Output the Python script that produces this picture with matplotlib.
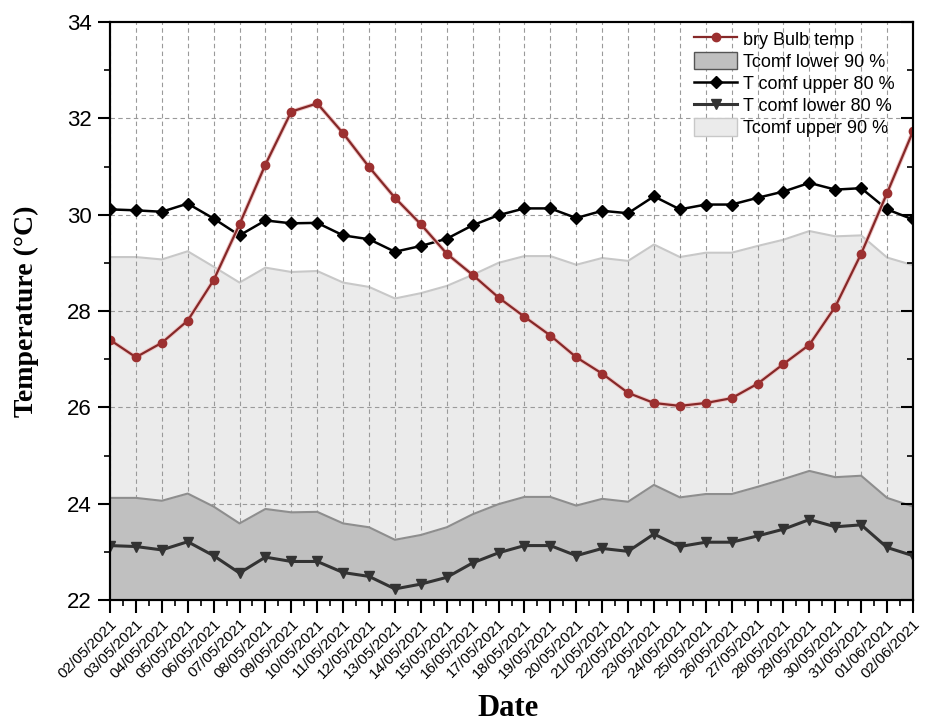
import numpy as np
import matplotlib
matplotlib.use('Agg')
import matplotlib.pyplot as plt
import matplotlib.patheffects as pe
from matplotlib.lines import Line2D
from matplotlib.patches import Patch

plt.rcParams['font.family'] = ['Liberation Sans', 'DejaVu Sans']

# data
dates = ['02/05/2021', '03/05/2021', '04/05/2021', '05/05/2021', '06/05/2021',
         '07/05/2021', '08/05/2021', '09/05/2021', '10/05/2021', '11/05/2021',
         '12/05/2021', '13/05/2021', '14/05/2021', '15/05/2021', '16/05/2021',
         '17/05/2021', '18/05/2021', '19/05/2021', '20/05/2021', '21/05/2021',
         '22/05/2021', '23/05/2021', '24/05/2021', '25/05/2021', '26/05/2021',
         '27/05/2021', '28/05/2021', '29/05/2021', '30/05/2021', '31/05/2021',
         '01/06/2021', '02/06/2021']

dry_bulb = [27.40, 27.04, 27.34, 27.80, 28.64, 29.80, 31.04, 32.14, 32.31, 31.69,
            30.99, 30.35, 29.80, 29.19, 28.75, 28.28, 27.88, 27.49, 27.04, 26.70,
            26.30, 26.09, 26.03, 26.09, 26.19, 26.49, 26.90, 27.30, 28.09, 29.19,
            30.45, 31.73]

upper_80 = [30.11, 30.09, 30.06, 30.23, 29.92, 29.57, 29.88, 29.82, 29.83, 29.57,
            29.49, 29.23, 29.35, 29.50, 29.78, 29.99, 30.13, 30.13, 29.93, 30.08,
            30.03, 30.38, 30.11, 30.21, 30.21, 30.35, 30.48, 30.66, 30.52, 30.55,
            30.11, 29.90]

upper_90 = [29.12, 29.12, 29.07, 29.24, 28.92, 28.59, 28.90, 28.81, 28.83, 28.59,
            28.50, 28.26, 28.37, 28.52, 28.75, 29.00, 29.14, 29.14, 28.96, 29.10,
            29.04, 29.38, 29.12, 29.21, 29.21, 29.35, 29.48, 29.66, 29.55, 29.57,
            29.11, 28.95]

lower_80 = [23.13, 23.11, 23.04, 23.21, 22.92, 22.56, 22.89, 22.80, 22.80, 22.57,
            22.49, 22.23, 22.33, 22.47, 22.77, 22.98, 23.13, 23.13, 22.92, 23.07,
            23.01, 23.37, 23.11, 23.20, 23.20, 23.33, 23.47, 23.67, 23.52, 23.56,
            23.09, 22.92]

lower_90 = [24.12, 24.12, 24.06, 24.21, 23.94, 23.59, 23.89, 23.82, 23.83, 23.59,
            23.51, 23.25, 23.35, 23.51, 23.78, 23.99, 24.14, 24.14, 23.96, 24.10,
            24.04, 24.39, 24.13, 24.20, 24.20, 24.35, 24.51, 24.68, 24.55, 24.58,
            24.12, 23.94]

ymin, ymax = 22, 34
x = np.arange(len(dates))

red = '#862828'
red_m = '#9c3030'
grid_c = '#9a9a9a'

fig = plt.figure(figsize=(9.27, 7.28), dpi=100)
ax = fig.add_axes([110 / 927, 1 - 600 / 728, 803 / 927, 578 / 728])

# light band (upper 90) sits under the grid, dark band (lower 90) above it
ax.fill_between(x, ymin, upper_90, color='#ebebeb', lw=0, zorder=0.3)
ax.plot(x, upper_90, color='#c8c8c8', lw=1.5, zorder=0.4)

for xi in x:
    ax.axvline(xi, color=grid_c, ls=(0, (4, 3)), lw=0.8, zorder=0.8)
for yv in range(24, 34, 2):
    ax.axhline(yv, color=grid_c, ls=(0, (4, 3)), lw=0.8, zorder=0.8)

ax.fill_between(x, ymin, lower_90, color='#c0c0c0', lw=0, zorder=1)
ax.plot(x, lower_90, color='#8e8e8e', lw=1.5, zorder=1.1)

ax.plot(x, lower_80, color='#333333', lw=2.2, marker='v', ms=7, zorder=3)
ax.plot(x, upper_80, color='black', lw=1.8, marker='D', ms=6, zorder=3)
# dry bulb: line with a faint pink halo, markers drawn plain on top
ax.plot(x, dry_bulb, color=red, lw=1.6, zorder=4,
        path_effects=[pe.Stroke(linewidth=3.0, foreground='#efc6c6'), pe.Normal()])
ax.plot(x, dry_bulb, ls='none', marker='o', ms=6, mfc=red_m, mec=red_m, zorder=4.1)

ax.set_xlim(0, len(dates) - 1)
ax.set_ylim(ymin, ymax)
ax.set_yticks(np.arange(22, 35, 2))
ax.set_yticks(np.arange(23, 34, 2), minor=True)
ax.set_xticks(x)
ax.set_xticks(x[:-1] + 0.5, minor=True)
ax.set_xticklabels(dates, rotation=45, ha='right', va='top', rotation_mode='anchor', fontsize=11)
ax.tick_params(axis='both', which='major', direction='out', length=9, width=1.5)
ax.tick_params(axis='both', which='minor', direction='out', length=4, width=1.2)
ax.tick_params(axis='y', labelsize=16, pad=4)
ax.tick_params(axis='x', pad=3)
for s in ax.spines.values():
    s.set_linewidth(1.5)

# right axis: inward ticks only
ax2 = ax.twinx()
ax2.set_ylim(ymin, ymax)
ax2.set_yticks(np.arange(22, 35, 2))
ax2.set_yticks(np.arange(23, 34, 2), minor=True)
ax2.tick_params(axis='y', which='major', direction='in', length=9, width=1.5, labelright=False)
ax2.tick_params(axis='y', which='minor', direction='in', length=4, width=1.2)
for s in ax2.spines.values():
    s.set_linewidth(1.5)

handles = [
    Line2D([], [], color=red, lw=1.6, marker='o', ms=6, mfc=red_m, mec=red_m),
    Patch(facecolor='#c0c0c0', edgecolor='#555555', lw=1),
    Line2D([], [], color='black', lw=1.8, marker='D', ms=6),
    Line2D([], [], color='#333333', lw=2.2, marker='v', ms=7),
    Patch(facecolor='#ebebeb', edgecolor='#c8c8c8', lw=1),
]
labels = ['bry Bulb temp', 'Tcomf lower 90 %', 'T comf upper 80 %',
          'T comf lower 80 %', 'Tcomf upper 90 %']
leg = ax2.legend(handles, labels, loc='upper left', bbox_to_anchor=(694 / 927, 1 - 30 / 728),
                 bbox_transform=fig.transFigure, frameon=False, fontsize=13,
                 labelspacing=0.18, handlelength=2.4, handleheight=1.1,
                 handletextpad=0.3, borderpad=0, borderaxespad=0)

fig.text(26 / 927, 1 - 311 / 728, 'Temperature (°C)', rotation=90, ha='center', va='center',
         family='Liberation Serif', fontweight='bold', fontsize=20)
fig.text(508 / 927, 1 - 709 / 728, 'Date', ha='center', va='center',
         family='Liberation Serif', fontweight='bold', fontsize=22)

fig.savefig('out.png', dpi=100)
